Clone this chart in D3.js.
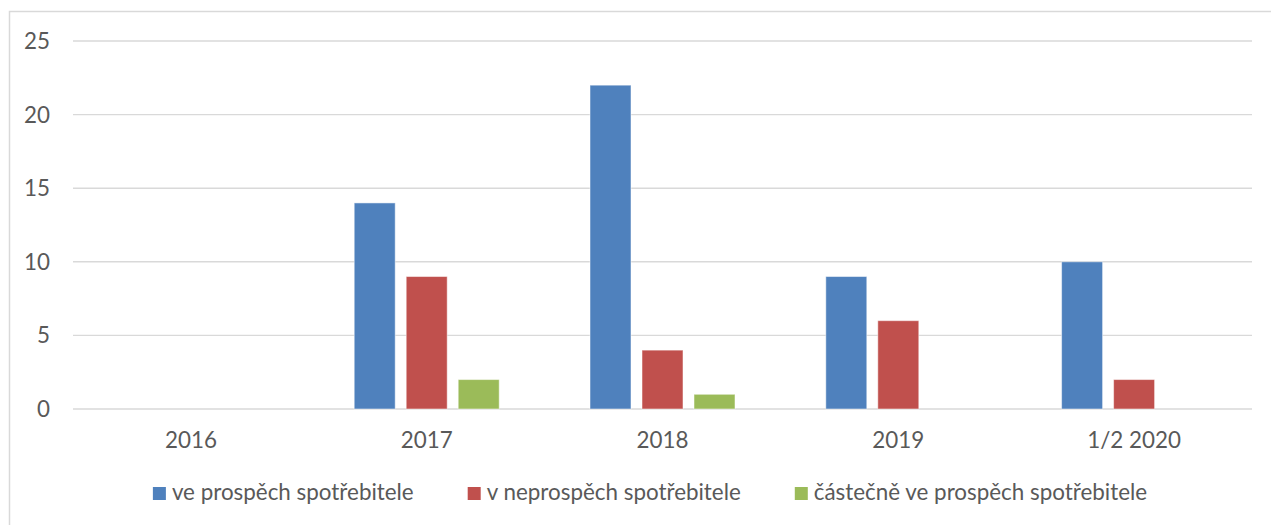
<!DOCTYPE html>
<html>
<head>
<meta charset="utf-8">
<script src="https://cdn.jsdelivr.net/npm/d3@7"></script>
<style>
  body { margin: 0; background: #fff; }
  text { font-family: Lato, "Open Sans", sans-serif; fill: #595959; }
</style>
</head>
<body>
<div class="graph_wrapper"></div>
<script>
// chart data
var categories = ['2016', '2017', '2018', '2019', '1/2 2020'];
var seriesNames = ['ve prospěch spotřebitele', 'v neprospěch spotřebitele', 'částečně ve prospěch spotřebitele'];
var inFavour = [0, 14, 22, 9, 10];
var against = [0, 9, 4, 6, 2];
var partly = [0, 2, 1, 0, 0];
var yTicks = [0, 5, 10, 15, 20, 25];
var colors = ['#4f81bd', '#c0504d', '#9bbb59'];

var series = [inFavour, against, partly];

var width = 1271;
var height = 525;
var plotLeft = 73, plotRight = 1252, plotTop = 41, plotBottom = 409;
var fontSize = 22.4;

var svg = d3.select('.graph_wrapper').append('svg')
  .attr('width', width).attr('height', height);

// chart border
svg.append('rect')
  .attr('x', 9.5).attr('y', 11.5)
  .attr('width', 1300).attr('height', 600)
  .attr('fill', 'none').attr('stroke', '#d9d9d9').attr('stroke-width', 1.5);

var y = d3.scaleLinear().domain([0, 25]).range([plotBottom, plotTop]);
var x0 = d3.scaleBand().domain(categories).range([plotLeft, plotRight]).padding(0);
var groupW = 145;
var x1 = d3.scaleBand().domain(d3.range(series.length)).range([0, groupW]).paddingInner(11 / 52).paddingOuter(0);

// gridlines
svg.append('g').selectAll('line').data(yTicks).enter().append('line')
  .attr('x1', plotLeft).attr('x2', plotRight)
  .attr('y1', function (d) { return y(d); })
  .attr('y2', function (d) { return y(d); })
  .attr('stroke', '#d9d9d9').attr('stroke-width', 1.4);

// y labels
svg.append('g').selectAll('text').data(yTicks).enter().append('text')
  .attr('x', 50).attr('y', function (d) { return y(d); })
  .attr('dy', '0.36em')
  .attr('text-anchor', 'end')
  .style('font-size', fontSize + 'px')
  .text(function (d) { return d; });

// x labels
svg.append('g').selectAll('text').data(categories).enter().append('text')
  .attr('x', function (d) { return x0(d) + x0.bandwidth() / 2; })
  .attr('y', 448)
  .attr('text-anchor', 'middle')
  .style('font-size', fontSize + 'px')
  .text(function (d) { return d; });

// bars
var groups = svg.append('g').selectAll('g').data(categories).enter().append('g')
  .attr('transform', function (d) {
    return 'translate(' + (x0(d) + (x0.bandwidth() - groupW) / 2) + ',0)';
  });

groups.selectAll('rect')
  .data(function (d, i) {
    return series.map(function (s, k) { return { k: k, v: s[i] }; });
  })
  .enter().append('rect')
  .filter(function (d) { return d.v > 0; })
  .attr('x', function (d) { return x1(d.k); })
  .attr('width', x1.bandwidth())
  .attr('y', function (d) { return y(d.v); })
  .attr('height', function (d) { return y(0) - y(d.v); })
  .attr('fill', function (d) { return colors[d.k]; })
  .attr('stroke', '#fff').attr('stroke-opacity', 0.5).attr('stroke-width', 1);

// legend
var legend = svg.append('g');
var items = legend.selectAll('g').data(seriesNames).enter().append('g');
items.append('rect')
  .attr('width', 13).attr('height', 13)
  .attr('y', 487)
  .attr('fill', function (d, i) { return colors[i]; });
items.append('text')
  .attr('x', 19).attr('y', 500)
  .style('font-size', fontSize + 'px')
  .text(function (d) { return d; });

var xPos = 0;
var gap = 54;
items.each(function () {
  var w = 19 + d3.select(this).select('text').node().getComputedTextLength();
  d3.select(this).attr('transform', 'translate(' + xPos + ',0)');
  xPos += w + gap;
});
var total = xPos - gap;
legend.attr('transform', 'translate(' + (650 - total / 2) + ',0)');
</script>
</body>
</html>
